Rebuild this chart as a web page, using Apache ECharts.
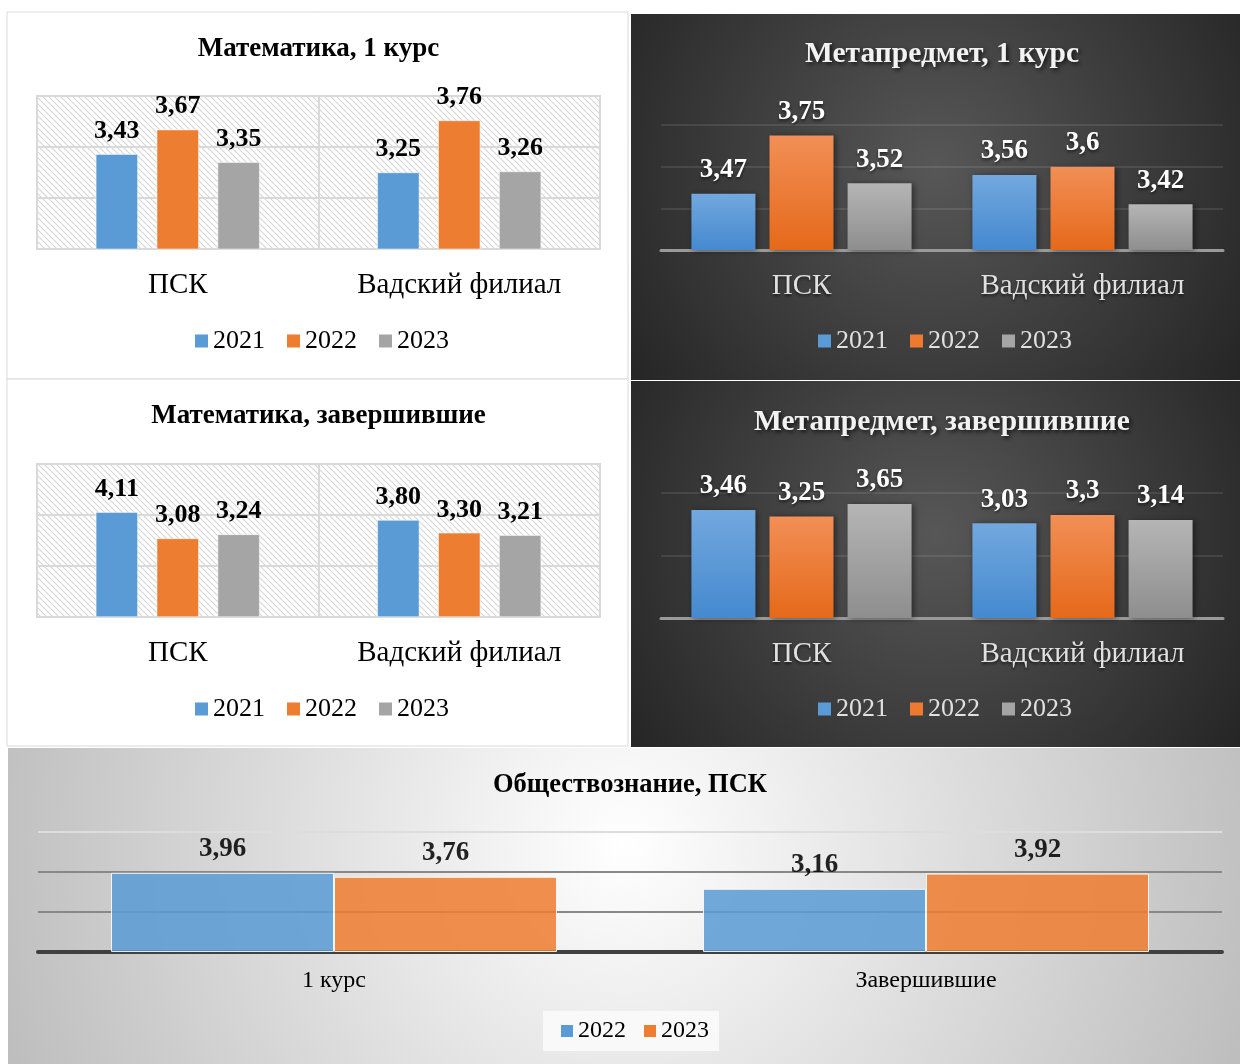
<!DOCTYPE html>
<html><head><meta charset="utf-8">
<script src="https://cdn.jsdelivr.net/npm/echarts@6/dist/echarts.min.js"></script>
<style>html,body{margin:0;padding:0;background:#fff}#c{width:1240px;height:1064px}</style>
</head><body><div id="c"></div>
<script>
// ---- data ----
const categories = ['ПСК', 'Вадский филиал'];
const years3 = ['2021', '2022', '2023'];
const math1_2021 = [3.43, 3.25];
const math1_2022 = [3.67, 3.76];
const math1_2023 = [3.35, 3.26];
const meta1_2021 = [3.47, 3.56];
const meta1_2022 = [3.75, 3.6];
const meta1_2023 = [3.52, 3.42];
const mathZ_2021 = [4.11, 3.80];
const mathZ_2022 = [3.08, 3.30];
const mathZ_2023 = [3.24, 3.21];
const metaZ_2021 = [3.46, 3.03];
const metaZ_2022 = [3.25, 3.3];
const metaZ_2023 = [3.65, 3.14];
const obshCategories = ['1 курс', 'Завершившие'];
const years2 = ['2022', '2023'];
const obsh_2022 = [3.96, 3.16];
const obsh_2023 = [3.76, 3.92];

const FONT = "'Liberation Serif','Times New Roman',serif";
const chart = echarts.init(document.getElementById('c'), null, {renderer: 'canvas'});

// hatch pattern
const pc = document.createElement('canvas');
pc.width = 6; pc.height = 6;
const pctx = pc.getContext('2d');
pctx.fillStyle = '#ffffff'; pctx.fillRect(0, 0, 6, 6);
pctx.strokeStyle = '#d6d6d6'; pctx.lineWidth = 1.1;
pctx.beginPath();
pctx.moveTo(-1, -1); pctx.lineTo(7, 7);
pctx.moveTo(-1, 5); pctx.lineTo(1, 7);
pctx.moveTo(5, -1); pctx.lineTo(7, 1);
pctx.stroke();
const hatch = {image: pc, repeat: 'repeat'};

const flat = ['#5b9bd5', '#ed7d31', '#a5a5a5'];
function vgrad(a, b) {
  return {type: 'linear', x: 0, y: 0, x2: 0, y2: 1, colorStops: [{offset: 0, color: a}, {offset: 1, color: b}]};
}
const darkCols = [vgrad('#72a8de', '#4589cf'), vgrad('#f28f56', '#e5691a'), vgrad('#b5b5b5', '#8e8e8e')];
const darkLegendCols = ['#5b9bd5', '#ee7a30', '#a5a5a5'];
const darkBg = {type: 'radial', x: 0.5, y: 0.42, r: 1.0, colorStops: [{offset: 0, color: '#575757'}, {offset: 1, color: '#262626'}]};
const lightBg = {type: 'radial', x: 0.5, y: 0.3, r: 2.05, colorStops: [{offset: 0, color: '#ffffff'}, {offset: 1, color: '#bebebe'}]};

const fmt2 = p => p.value.toFixed(2).replace('.', ',');
const fmtRaw = p => String(p.value).replace('.', ',');

const grids = [], xAxes = [], yAxes = [], series = [], titles = [], legends = [];

function addPanel(o) {
  const gi = grids.length;
  grids.push(Object.assign({containLabel: false}, o.grid));
  xAxes.push({
    type: 'category', gridIndex: gi, data: o.cats,
    axisTick: {show: false},
    axisLine: {show: true, lineStyle: o.axisLine},
    splitLine: {show: !!o.vSplit, interval: 0, lineStyle: {color: '#d9d9d9', width: 2}},
    axisLabel: {interval: 0, margin: o.labelMargin, fontFamily: FONT, fontSize: o.catSize, color: o.catColor,
      textShadowColor: o.dark ? 'rgba(0,0,0,0.6)' : 'transparent', textShadowBlur: o.dark ? 3 : 0, textShadowOffsetY: o.dark ? 2 : 0}
  });
  yAxes.push({
    type: 'value', gridIndex: gi, min: o.yMin, max: o.yMax, interval: o.yInt,
    axisLabel: {show: false}, axisLine: {show: false}, axisTick: {show: false},
    splitLine: {show: true, lineStyle: o.splitLine}
  });
  o.data.forEach((d, k) => {
    series.push({
      type: 'bar', name: o.names[k], xAxisIndex: gi, yAxisIndex: gi, data: d,
      barWidth: o.barWidth, barGap: o.barGap,
      itemStyle: Object.assign({color: o.colors[k]}, o.itemStyle || {}),
      label: {show: true, position: 'top', distance: o.labelDist, formatter: o.fmt,
        fontFamily: FONT, fontWeight: 'bold', fontSize: o.valSize, color: o.valColor,
        textShadowColor: o.dark ? 'rgba(0,0,0,0.6)' : 'transparent', textShadowBlur: o.dark ? 3 : 0, textShadowOffsetY: o.dark ? 2 : 0}
    });
  });
  titles.push({
    text: o.title, left: o.titleX, top: o.titleY, textAlign: 'center', padding: 0,
    textStyle: {fontFamily: FONT, fontWeight: 'bold', fontSize: o.titleSize, color: o.titleColor,
      textShadowColor: o.dark ? 'rgba(0,0,0,0.75)' : 'transparent', textShadowBlur: o.dark ? 4 : 0,
      textShadowOffsetX: o.dark ? 2 : 0, textShadowOffsetY: o.dark ? 2 : 0}
  });
  const legCols = o.legendColors || o.colors;
  legends.push(Object.assign({
    orient: 'horizontal', icon: 'rect', itemWidth: o.legIcon, itemHeight: o.legIcon, itemGap: o.legGap,
    selectedMode: false,
    data: o.names.map((n, k) => ({name: n, itemStyle: {color: legCols[k], opacity: 1, borderWidth: 0, shadowBlur: 0}})),
    textStyle: {fontFamily: FONT, fontSize: o.legSize, color: o.legColor, padding: [0, 0, 0, 0]}
  }, o.legend));
}

// Panel A: Математика, 1 курс
addPanel({
  title: 'Математика, 1 курс', titleX: 318.5, titleY: 36, titleSize: 27, titleColor: '#000',
  grid: {left: 37, top: 96, width: 563, height: 153, show: true, backgroundColor: hatch, borderColor: '#d9d9d9', borderWidth: 2},
  cats: categories, names: years3, data: [math1_2021, math1_2022, math1_2023], colors: flat,
  yMin: 2.5, yMax: 4, yInt: 0.5,
  splitLine: {color: '#d9d9d9', width: 2}, axisLine: {color: '#d9d9d9', width: 2}, vSplit: true,
  barWidth: 42, barGap: '45%', labelDist: 10, fmt: fmt2, valSize: 26, valColor: '#000',
  itemStyle: {borderColor: '#ffffff', borderWidth: 0.5},
  catSize: 29, catColor: '#000', labelMargin: 22,
  legIcon: 13, legGap: 22, legSize: 26, legColor: '#000', legend: {left: 195, top: 328, padding: 0}
});
// Panel B: Метапредмет, 1 курс
addPanel({
  dark: true,
  title: 'Метапредмет, 1 курс', titleX: 942, titleY: 39, titleSize: 29.5, titleColor: '#f2f2f2',
  grid: {left: 661, top: 125, width: 562, height: 125},
  cats: categories, names: years3, data: [meta1_2021, meta1_2022, meta1_2023], colors: darkCols, legendColors: darkLegendCols,
  yMin: 3.2, yMax: 3.8, yInt: 0.2,
  splitLine: {color: 'rgba(255,255,255,0.13)', width: 1.5}, axisLine: {color: '#9a9a9a', width: 3},
  barWidth: 64, barGap: '22%', labelDist: 10, fmt: fmtRaw, valSize: 27, valColor: '#ffffff',
  itemStyle: {shadowColor: 'rgba(0,0,0,0.45)', shadowBlur: 6, shadowOffsetX: 2, shadowOffsetY: 1},
  catSize: 29, catColor: '#e0e0e0', labelMargin: 22,
  legIcon: 13, legGap: 22, legSize: 26, legColor: '#e0e0e0', legend: {left: 818, top: 328, padding: 0}
});
// Panel C: Математика, завершившие
addPanel({
  title: 'Математика, завершившие', titleX: 318.5, titleY: 403, titleSize: 27, titleColor: '#000',
  grid: {left: 37, top: 464, width: 563, height: 153, show: true, backgroundColor: hatch, borderColor: '#d9d9d9', borderWidth: 2},
  cats: categories, names: years3, data: [mathZ_2021, mathZ_2022, mathZ_2023], colors: flat,
  yMin: 0, yMax: 6, yInt: 2,
  splitLine: {color: '#d9d9d9', width: 2}, axisLine: {color: '#d9d9d9', width: 2}, vSplit: true,
  barWidth: 42, barGap: '45%', labelDist: 10, fmt: fmt2, valSize: 26, valColor: '#000',
  itemStyle: {borderColor: '#ffffff', borderWidth: 0.5},
  catSize: 29, catColor: '#000', labelMargin: 22,
  legIcon: 13, legGap: 22, legSize: 26, legColor: '#000', legend: {left: 195, top: 696, padding: 0}
});
// Panel D: Метапредмет, завершившие
addPanel({
  dark: true,
  title: 'Метапредмет, завершившие', titleX: 942, titleY: 407, titleSize: 29.5, titleColor: '#f2f2f2',
  grid: {left: 661, top: 493, width: 562, height: 125},
  cats: categories, names: years3, data: [metaZ_2021, metaZ_2022, metaZ_2023], colors: darkCols, legendColors: darkLegendCols,
  yMin: 0, yMax: 4, yInt: 2,
  splitLine: {color: 'rgba(255,255,255,0.13)', width: 1.5}, axisLine: {color: '#9a9a9a', width: 3},
  barWidth: 64, barGap: '22%', labelDist: 10, fmt: fmtRaw, valSize: 27, valColor: '#ffffff',
  itemStyle: {shadowColor: 'rgba(0,0,0,0.45)', shadowBlur: 6, shadowOffsetX: 2, shadowOffsetY: 1},
  catSize: 29, catColor: '#e0e0e0', labelMargin: 22,
  legIcon: 13, legGap: 22, legSize: 26, legColor: '#e0e0e0', legend: {left: 818, top: 696, padding: 0}
});
// Panel E: Обществознание, ПСК
addPanel({
  title: 'Обществознание, ПСК', titleX: 630, titleY: 772, titleSize: 26.5, titleColor: '#000',
  grid: {left: 38, top: 832, width: 1184, height: 120},
  cats: obshCategories, names: years2, data: [obsh_2022, obsh_2023], colors: ['#5b9bd5', '#ed7d31'],
  yMin: 0, yMax: 6, yInt: 2,
  splitLine: {color: ['#888888', '#888888', '#888888', '#dddddd'], width: 2}, axisLine: {color: '#404040', width: 4},
  barWidth: 223, barGap: '0%', labelDist: 10, fmt: fmt2, valSize: 27, valColor: '#000',
  itemStyle: {opacity: 0.86, borderColor: '#ffffff', borderWidth: 1},
  catSize: 24, catColor: '#000', labelMargin: 17,
  legIcon: 12, legGap: 18, legSize: 24, legColor: '#000',
  legend: {left: 543, top: 1011, padding: [8, 10, 8, 18], backgroundColor: '#f9f9f9'}
});

const option = {
  animation: false,
  backgroundColor: '#ffffff',
  graphic: [
    {type: 'rect', z: -100, shape: {x: 7, y: 12, width: 621, height: 367}, style: {fill: '#fff', stroke: '#d9d9d9', lineWidth: 1}},
    {type: 'rect', z: -100, shape: {x: 7, y: 379, width: 621, height: 367}, style: {fill: '#fff', stroke: '#d9d9d9', lineWidth: 1}},
    {type: 'rect', z: -100, shape: {x: 631, y: 14, width: 609, height: 366}, style: {fill: darkBg}},
    {type: 'rect', z: -100, shape: {x: 631, y: 381, width: 609, height: 366}, style: {fill: darkBg}},
    {type: 'rect', z: -100, shape: {x: 8, y: 748, width: 1232, height: 316}, style: {fill: lightBg}}
  ],
  title: titles, legend: legends, grid: grids, xAxis: xAxes, yAxis: yAxes, series: series
};
chart.setOption(option);
</script></body></html>
